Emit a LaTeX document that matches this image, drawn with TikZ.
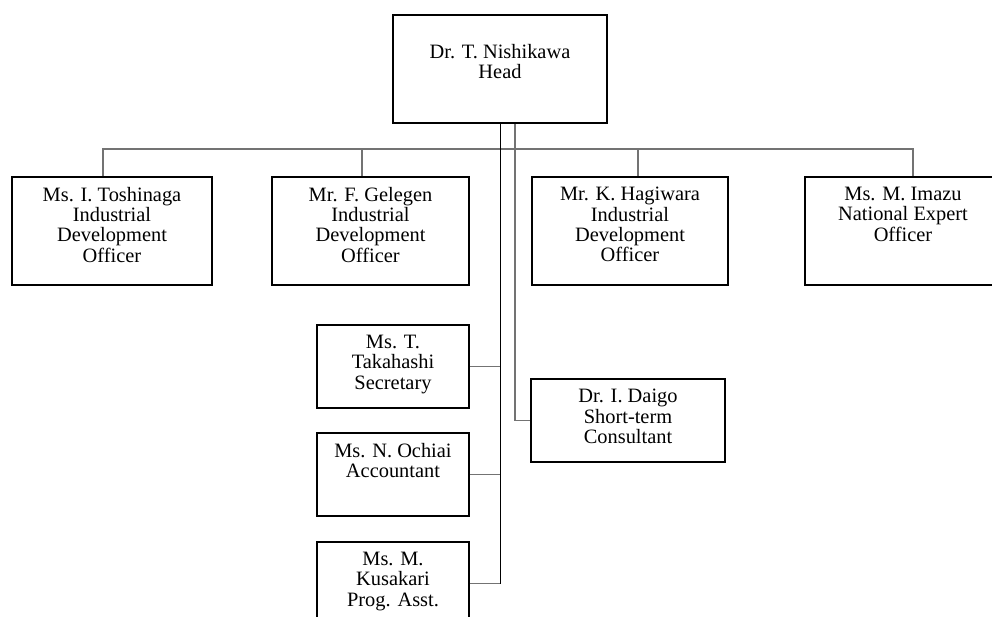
\documentclass[tikz,border=0pt]{standalone}
\usepackage{fontspec}
\setmainfont{Liberation Serif}
\begin{document}
\begin{tikzpicture}[x=1pt,y=-1pt,
  box/.style={draw=black,line width=1.6pt,fill=white,inner sep=0,minimum height=108pt},
  sbox/.style={box,minimum height=83pt},
  lbl/.style={anchor=north,inner sep=0,align=center,font=\fontsize{20.4}{20.3}\selectfont},
  gconn/.style={draw=black!55,line width=1.5pt},
  bconn/.style={draw=black,line width=1.5pt}]
\clip (0,0) rectangle (992,617);
\fill[white] (0,0) rectangle (992,617);
% boxes
\node[box,minimum width=214pt] (head) at (500,69) {};
\node[box,minimum width=200pt] (b1) at (112,231) {};
\node[box,minimum width=197pt] (b2) at (370.5,231) {};
\node[box,minimum width=196pt] (b3) at (630,231) {};
\node[box,minimum width=196pt] (b4) at (903,231) {};
\node[sbox,minimum width=152pt] (sec) at (393,366.5) {};
\node[sbox,minimum width=152pt] (acc) at (393,474.5) {};
\node[sbox,minimum width=152pt] (kus) at (393,583.5) {};
\node[sbox,minimum width=194pt] (daigo) at (628,420.5) {};
% labels
\node[lbl] (lhead) at ([yshift=-29.8pt]head.north) {Dr. T. Nishikawa\\Head};
\node[lbl] (l1) at ([yshift=-10.8pt]b1.north) {Ms. I. Toshinaga\\Industrial\\Development\\Officer};
\node[lbl] (l2) at ([yshift=-10.8pt]b2.north) {Mr. F. Gelegen\\Industrial\\Development\\Officer};
\node[lbl] (l3) at ([yshift=-10.8pt]b3.north) {Mr. K. Hagiwara\\Industrial\\Development\\Officer};
\node[lbl] (l4) at ([yshift=-10.8pt]b4.north) {Ms. M. Imazu\\National Expert\\Officer};
\node[lbl] (lsec) at ([yshift=-10.8pt]sec.north) {Ms. T.\\Takahashi\\Secretary};
\node[lbl] (lacc) at ([yshift=-10.8pt]acc.north) {Ms. N. Ochiai\\Accountant};
\node[lbl] (lkus) at ([yshift=-10.8pt]kus.north) {Ms. M.\\Kusakari\\Prog. Asst.};
\node[lbl] (ldaigo) at ([yshift=-10.8pt]daigo.north) {Dr. I. Daigo\\Short-term\\Consultant};
% connector points
\coordinate (bus) at (0,149);
\coordinate (d1) at ([xshift=-9pt]b1.north);
\coordinate (d2) at ([xshift=-8.5pt]b2.north);
\coordinate (d3) at ([xshift=8pt]b3.north);
\coordinate (d4) at ([xshift=10pt]b4.north);
\coordinate (tb) at ([xshift=0.7pt]head.south);
\coordinate (tg) at ([xshift=15pt]head.south);
% connectors
\draw[gconn] (d1) -- (d1 |- bus) -- (d4 |- bus) -- (d4);
\draw[gconn] (d2) -- (d2 |- bus);
\draw[gconn] (d3) -- (d3 |- bus);
\draw[gconn] (tg) |- (daigo.west);
\draw[gconn] (sec.east) -- (sec.east -| tb);
\draw[gconn] (acc.east) -- (acc.east -| tb);
\draw[gconn] (kus.east) -- (kus.east -| tb);
\draw[bconn] (tb) -- (tb |- kus.east);
\end{tikzpicture}
\end{document}
